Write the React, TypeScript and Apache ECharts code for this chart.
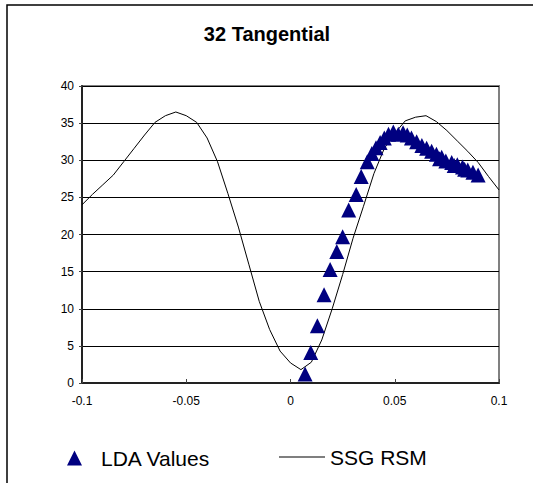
import React, { useEffect, useRef } from "react";
import * as echarts from "echarts";

const ldaX = [0.007, 0.0097, 0.0129, 0.0161, 0.019, 0.0222, 0.025, 0.0279, 0.0315, 0.0339, 0.0368, 0.039, 0.041, 0.043, 0.045, 0.047, 0.0493, 0.0517, 0.054, 0.056, 0.058, 0.0605, 0.063, 0.0653, 0.0677, 0.07, 0.0715, 0.0725, 0.0745, 0.0773, 0.0785, 0.08, 0.0825, 0.0835, 0.085, 0.0875, 0.09];
const ldaY = [1.2, 4.1, 7.7, 11.9, 15.3, 17.7, 19.7, 23.3, 25.4, 27.8, 29.8, 30.9, 31.7, 32.4, 33.0, 33.5, 33.8, 33.5, 33.7, 33.4, 33.0, 32.5, 32.0, 31.6, 31.2, 30.8, 30.2, 30.4, 29.9, 29.7, 29.3, 29.4, 29.1, 28.8, 28.7, 28.4, 28.0];

const rsmX = [-0.1, -0.095, -0.09, -0.085, -0.08, -0.075, -0.07, -0.065, -0.06, -0.055, -0.05, -0.045, -0.04, -0.035, -0.03, -0.025, -0.02, -0.015, -0.01, -0.005, 0, 0.005, 0.01, 0.015, 0.02, 0.025, 0.03, 0.035, 0.04, 0.045, 0.05, 0.055, 0.06, 0.065, 0.07, 0.075, 0.08, 0.085, 0.09, 0.095, 0.1];
const rsmY = [24.0, 25.4, 26.7, 28.0, 29.8, 31.6, 33.4, 35.1, 36.0, 36.5, 36.0, 35.1, 33.0, 29.8, 25.5, 21.0, 16.0, 11.0, 7.2, 4.3, 2.7, 1.8, 2.8, 5.8, 10.0, 14.6, 19.5, 23.8, 28.2, 31.6, 33.6, 35.3, 35.8, 36.0, 35.2, 34.0, 32.6, 31.2, 29.7, 27.8, 26.0];

const yTicks = [0, 5, 10, 15, 20, 25, 30, 35, 40];
const xTicks = [-0.1, -0.05, 0, 0.05, 0.1];

const FONT = "'Liberation Sans', Arial, sans-serif";

export default function App() {
  const ref = useRef<HTMLDivElement>(null);
  useEffect(() => {
    if (!ref.current) return;
    const chart = echarts.init(ref.current, null, { renderer: "svg" });
    chart.setOption({
      animation: false,
      backgroundColor: "#ffffff",
      textStyle: { fontFamily: FONT },
      graphic: [
        {
          type: "rect",
          shape: { x: 7, y: 5, width: 560, height: 520 },
          style: { fill: "none", stroke: "#000", lineWidth: 1.5 },
          silent: true,
        },
        {
          type: "text",
          x: 267,
          y: 34,
          style: {
            text: "32 Tangential",
            font: "bold 20px " + FONT,
            fill: "#000",
            textAlign: "center",
            textVerticalAlign: "middle",
          },
        },
      ],
      legend: [
        {
          data: [{ name: "LDA Values", icon: "triangle" }],
          left: 62,
          top: 441,
          itemWidth: 15,
          itemHeight: 15,
          textStyle: { fontSize: 21, fontFamily: FONT, color: "#000", padding: [0, 0, 0, 14], lineHeight: 24 },
          selectedMode: false,
        },
        {
          data: [{ name: "SSG RSM", icon: "rect" }],
          left: 274,
          top: 440,
          itemWidth: 46,
          itemHeight: 1,
          textStyle: { fontSize: 21, fontFamily: FONT, color: "#000", lineHeight: 24 },
          selectedMode: false,
        },
      ],
      grid: {
        left: 82,
        top: 86,
        width: 417,
        height: 297,
        show: true,
        borderColor: "#808080",
        borderWidth: 2,
        backgroundColor: "#ffffff",
      },
      xAxis: {
        type: "value",
        min: xTicks[0],
        max: xTicks[xTicks.length - 1],
        interval: 0.05,
        axisLine: { show: true, onZero: false, lineStyle: { color: "#222", width: 2 } },
        axisTick: { show: true, inside: true, length: 4, lineStyle: { color: "#444" } },
        splitLine: { show: false },
        axisLabel: {
          margin: 12,
          fontSize: 12,
          color: "#000",
          fontFamily: FONT,
          formatter: (v: number) => String(Number(v.toFixed(2))),
        },
      },
      yAxis: {
        type: "value",
        min: yTicks[0],
        max: yTicks[yTicks.length - 1],
        interval: 5,
        axisLine: { show: true, onZero: false, lineStyle: { color: "#222", width: 2 } },
        axisTick: { show: true, length: 3, lineStyle: { color: "#444" } },
        splitLine: { show: true, lineStyle: { color: "#000", width: 1 } },
        axisLabel: { margin: 8, fontSize: 12, color: "#000", fontFamily: FONT },
      },
      series: [
        {
          name: "SSG RSM",
          type: "line",
          data: rsmX.map((x, i) => [x, rsmY[i]]),
          symbol: "none",
          lineStyle: { color: "#000", width: 1 },
          itemStyle: { color: "#000" },
          z: 3,
        },
        {
          name: "LDA Values",
          type: "scatter",
          data: ldaX.map((x, i) => [x, ldaY[i]]),
          symbol: "triangle",
          symbolSize: 15,
          itemStyle: { color: "#000080", opacity: 1 },
          z: 4,
        },
      ],
    });
    return () => chart.dispose();
  }, []);
  return (
    <div
      ref={ref}
      style={{ position: "fixed", left: 0, top: 0, width: 533, height: 483 }}
    />
  );
}
